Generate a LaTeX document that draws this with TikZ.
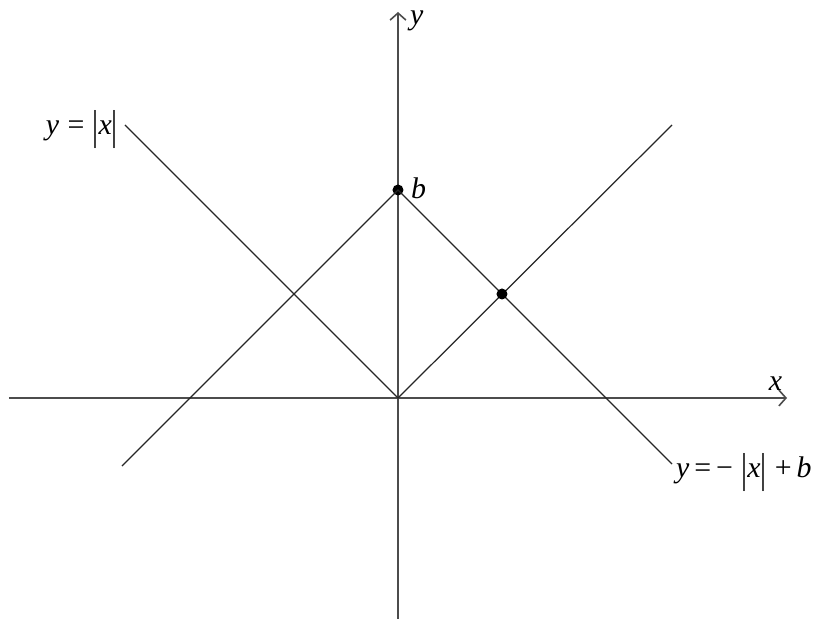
\documentclass[tikz,border=0pt]{standalone}
\usepackage{fontspec}
\usepackage{graphicx}
\setmainfont{Liberation Serif}
\usetikzlibrary{arrows.meta}
\newcommand{\tallbar}{\raisebox{-0.18em}{\scalebox{1}[1.4]{|}}}
\tikzset{
    graphline/.style={black!85, line width=0.7pt},
    axisline/.style={black!70, line width=0.9pt, -{Straight Barb[length=4pt,width=9pt]}},
    ptdot/.style={circle, fill=black, inner sep=0pt, minimum size=0.22cm},
    lbl/.style={font=\fontsize{17}{19}\selectfont, inner sep=1pt}
}
\begin{document}
\begin{tikzpicture}[scale=1.0]
        \useasboundingbox (-7.96,-4.42) rectangle (8.34,7.96);

        % Axes
        \coordinate (xl) at (-7.78,0);
        \coordinate (xr) at (7.78,0);
        \coordinate (yb) at (0,-4.42);
        \coordinate (yt) at (0,7.72);
        \draw[axisline] (xl) -- (xr);
        \draw[axisline] (yb) -- (yt);
        \node[lbl, anchor=south] (xlab) at (7.55,0.1) {\itshape x};
        \node[lbl, anchor=west] (ylab) at (0.2,7.55) {\itshape y};

        % y = |x|
        \coordinate (O) at (0,0);
        \coordinate (absL) at (-5.46,5.46);
        \coordinate (absR) at (5.48,5.46);
        \draw[graphline] (absL) -- (O) -- (absR);
        \node[lbl, anchor=east] (abslab) at (-5.56,5.36) {{\itshape y}\;=\;\tallbar{\itshape x}\tallbar};

        % y = -|x| + b
        \node[ptdot] (b) at (0,4.16) {};
        \coordinate (negL) at (-5.52,-1.36);
        \coordinate (negR) at (5.48,-1.32);
        \draw[graphline] (negL) -- (b.center) -- (negR);
        \node[lbl, anchor=west] (blab) at (0.22,4.2) {\itshape b};
        \node[lbl, anchor=west] (neglab) at (5.52,-1.5) {{\itshape y}\,=\,−\;\tallbar{\itshape x}\tallbar\;+\,{\itshape b}};

        % Intersection
        \node[ptdot] (meet) at (2.08,2.08) {};
\end{tikzpicture}
\end{document}
